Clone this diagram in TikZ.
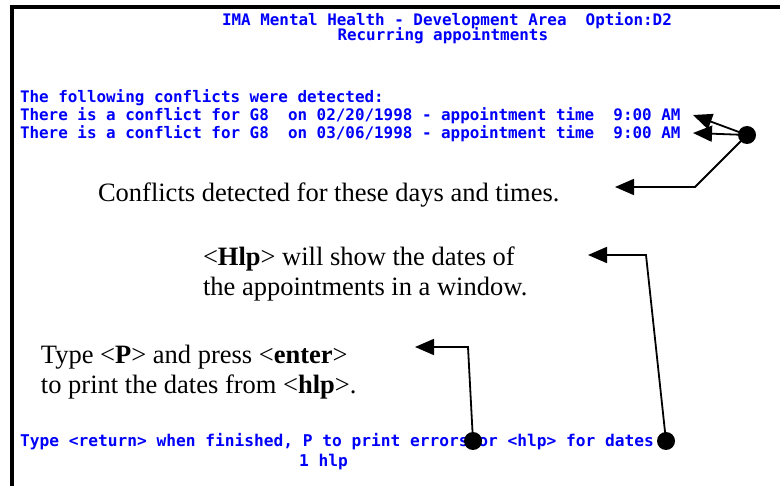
\documentclass[tikz,border=0pt]{standalone}
\usepackage{fontspec}
\setmainfont{Liberation Serif}
\newfontfamily\scrfont{DejaVu Sans Mono}
\usetikzlibrary{arrows.meta}
\definecolor{scrblue}{RGB}{0,0,250}
\begin{document}
\begin{tikzpicture}[x=1pt,y=-1pt,
  scr/.style={font=\scrfont\bfseries\fontsize{15.9}{18}\selectfont, text=scrblue, anchor=base west, inner sep=0pt, outer sep=0pt},
  scrb/.style={scr, font=\scrfont\bfseries\fontsize{16.2}{18}\selectfont},
  note/.style={font=\fontsize{26.5}{30}\selectfont, anchor=base west, inner sep=0pt, outer sep=0pt},
  dot/.style={circle, fill=black, minimum size=18pt, inner sep=0pt, outer sep=0pt},
  arr/.style={line width=1.8pt, -{Triangle[length=19pt,width=16pt]}},
]
\useasboundingbox (0,0) rectangle (780,486);
% screen frame
\fill (10,5) rectangle (780,9);
\fill (10,5) rectangle (14,486);
% screen text
\node[scr] (title) at (222,26) {IMA Mental Health - Development Area~~Option:D2};
\node[scr] (sub) at (337.5,41) {Recurring appointments};
\node[scr] (l1) at (20,103) {The following conflicts were detected:};
\node[scr] (l2) at (20,121) {There is a conflict for G8~~on 02/20/1998 - appointment time~~9:00 AM};
\node[scr] (l3) at (20,139) {There is a conflict for G8~~on 03/06/1998 - appointment time~~9:00 AM};
\node[scrb] (bot) at (20,447) {Type <return> when finished, P to print errors or <hlp> for dates};
\node[scrb] (hlp) at (299,467) {1 hlp};
% notes
\node[note] (n1) at (98,202) {Conflicts detected for these days and times.};
\node[note] (n2a) at (203,266) {<\textbf{Hlp}> will show the dates of};
\node[note] (n2b) at (203,296) {the appointments in a window.};
\node[note] (n3a) at (41,364) {Type <\textbf{P}> and press <\textbf{enter}>};
\node[note] (n3b) at (41,394) {to print the dates from <\textbf{hlp}>.};
% dots
\node[dot] (d1) at (747,135) {};
\node[dot] (d2) at (473,441) {};
\node[dot] (d3) at (666,441) {};
% bends and tips
\coordinate (t1) at (693,115);
\coordinate (t2) at (693,133);
\coordinate (b3) at (695,187);
\coordinate (t3) at (615,187);
\coordinate (b4) at (646,255);
\coordinate (t4) at (588,255);
\coordinate (b5) at (468,347);
\coordinate (t5) at (415,347);
% connectors
\draw[arr] (d1.center) -- (t1);
\draw[arr] (d1.center) -- (t2);
\draw[arr] (d1.center) -- (b3) -- (t3);
\draw[arr] (d3.center) -- (b4) -- (t4);
\draw[arr] (d2.center) -- (b5) -- (t5);
\end{tikzpicture}
\end{document}
